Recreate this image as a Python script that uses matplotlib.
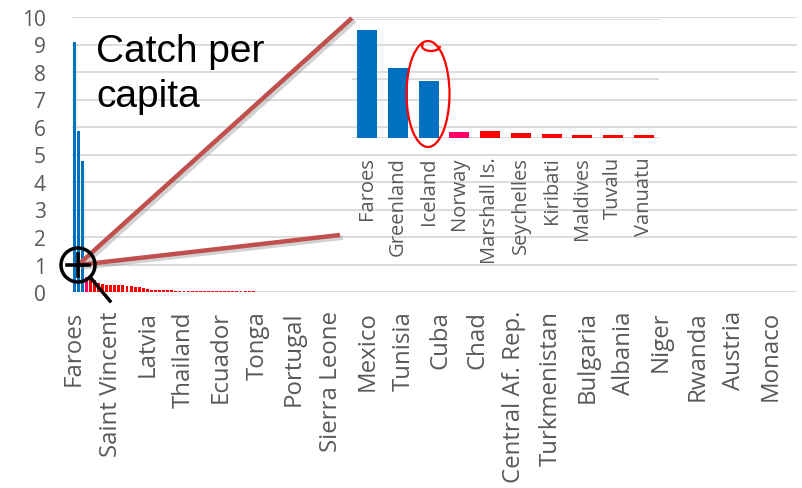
import matplotlib.pyplot as plt
import matplotlib.patheffects as pe
import matplotlib.transforms as mtransforms
from matplotlib.patches import Circle, Ellipse, Arc
from matplotlib.lines import Line2D

plt.rcParams.update({
    'font.family': ['Open Sans', 'DejaVu Sans'],
    'font.size': 12,
})

# countries labelled on the main axis (every 9th bar)
tick_labels = ["Faroes", "Saint Vincent", "Latvia", "Thailand", "Ecuador",
               "Tonga", "Portugal", "Sierra Leone", "Mexico", "Tunisia",
               "Cuba", "Chad", "Central Af. Rep.", "Turkmenistan", "Bulgaria",
               "Albania", "Niger", "Rwanda", "Austria", "Monaco"]
label_step = 9

# catch per capita, sorted descending (one value per country)
catch_per_capita = [
    9.10, 5.85, 4.75, 0.53, 0.55, 0.42, 0.33, 0.28, 0.27, 0.26,
    0.25, 0.25, 0.24, 0.23, 0.22, 0.20, 0.17, 0.14, 0.11, 0.09,
    0.08, 0.07, 0.065, 0.06, 0.055, 0.05, 0.05, 0.048, 0.046, 0.045,
    0.044, 0.042, 0.040, 0.035, 0.030, 0.028, 0.026, 0.025, 0.024, 0.023,
    0.022, 0.021, 0.020, 0.020, 0.019, 0.018, 0.018, 0.017, 0.016, 0.016,
    0.015, 0.015, 0.014, 0.014, 0.013, 0.013, 0.012, 0.012, 0.011, 0.011,
    0.010, 0.010, 0.009, 0.009, 0.009, 0.008, 0.008, 0.008, 0.007, 0.007,
    0.007, 0.007, 0.006, 0.006, 0.006, 0.006, 0.005, 0.005, 0.005, 0.005,
    0.005, 0.004, 0.004, 0.004, 0.004, 0.004, 0.004, 0.003, 0.003, 0.003,
    0.003, 0.003, 0.003, 0.003, 0.002, 0.002, 0.002, 0.002, 0.002, 0.002,
    0.002, 0.002, 0.002, 0.002, 0.002, 0.001, 0.001, 0.001, 0.001, 0.001,
    0.001, 0.001, 0.001, 0.001, 0.001, 0.001, 0.001, 0.001, 0.001, 0.001,
    0.001, 0.001, 0.001, 0.001, 0.001, 0.001, 0.001, 0.001, 0.001, 0.001,
    0.001, 0.001, 0.001, 0.001, 0.001, 0.0005, 0.0005, 0.0005, 0.0005, 0.0005,
    0.0005, 0.0005, 0.0005, 0.0005, 0.0005, 0.0005, 0.0005, 0.0005, 0.0005, 0.0005,
    0.0005, 0.0005, 0.0005, 0.0005, 0.0005, 0.0002, 0.0002, 0.0002, 0.0002, 0.0002,
    0.0002, 0.0002, 0.0002, 0.0002, 0.0002, 0.0002, 0.0002, 0.0002, 0.0002, 0.0002,
    0.0001, 0.0001, 0.0001, 0.0001, 0.0001, 0.0001, 0.0001, 0.0001,
]

# zoomed view: the top ten
inset_countries = ["Faroes", "Greenland", "Iceland", "Norway", "Marshall Is.",
                   "Seychelles", "Kiribati", "Maldives", "Tuvalu", "Vanuatu"]
inset_values = catch_per_capita[:len(inset_countries)]

BLUE = '#0070C0'
RED = '#FF0000'
PINK = '#FF0066'
GRID = '#D9D9D9'
TEXT = '#595959'
LINK = '#C0504D'


def bar_colors(n):
    colors = [RED] * n
    colors[:3] = [BLUE] * 3
    colors[3] = PINK
    return colors


W, H = 802, 489
fig = plt.figure(figsize=(W / 100, H / 100), dpi=100)

# ---- main chart
ax = fig.add_axes([72 / W, 1 - 293 / H, 725 / W, 275 / H])
n = len(catch_per_capita)
ax.bar(range(n), catch_per_capita, width=0.72, color=bar_colors(n), zorder=2)
ax.set_xlim(-0.5, n - 0.5)
ax.set_ylim(0, 10)
ax.set_yticks(range(0, 11))
ax.set_xticks(range(0, n, label_step)[:len(tick_labels)])
ax.set_xticklabels(tick_labels, rotation=90, fontsize=17.3, color=TEXT)
ax.tick_params(axis='x', length=0, pad=13)
ax.tick_params(axis='y', length=0, pad=19, labelsize=15, labelcolor=TEXT)
ax.grid(axis='y', color=GRID, lw=1.3, zorder=0)
ax.set_axisbelow(True)
for s in ax.spines.values():
    s.set_visible(False)
ax.set_facecolor('none')

ax.text(96 / W, 1 - 34 / H, "Catch per\ncapita", transform=fig.transFigure,
        family=['Liberation Sans', 'DejaVu Sans'], fontsize=28,
        color='black', va='top', ha='left', linespacing=1.32)

# ---- inset
axin = fig.add_axes([352 / W, 1 - 139 / H, 307 / W, 119 / H])
m = len(inset_values)
axin.bar(range(m), inset_values, width=0.65, color=bar_colors(m), zorder=2)
axin.set_xlim(-0.5, m - 0.5)
axin.set_ylim(0, 10)
axin.set_yticks([0, 5, 10])
axin.set_yticklabels([])
axin.set_xticks(range(m))
axin.set_xticklabels(inset_countries, rotation=90, fontsize=14.5, color=TEXT)
axin.tick_params(axis='x', length=0, pad=13)
axin.tick_params(axis='y', length=0)
axin.grid(axis='y', color=GRID, lw=1.3, zorder=0)
for s in axin.spines.values():
    s.set_visible(False)
axin.patch.set_visible(False)

# ---- zoom decorations, in image pixels (y down)
px = mtransforms.Affine2D().scale(1 / 100, -1 / 100).translate(0, H / 100) + fig.dpi_scale_trans
shadow = [pe.SimpleLineShadow(offset=(2, -2), shadow_color='gray', alpha=0.35), pe.Normal()]
cx, cy = 78, 266
for ex, ey in [(352, 19), (340, 236)]:
    fig.add_artist(Line2D([cx, ex], [cy, ey], transform=px, color=LINK, lw=3.2,
                          solid_capstyle='butt', path_effects=shadow, zorder=5))

fig.add_artist(Circle((cx, cy), 17, transform=px, fill=False, ec='black', lw=2.5, zorder=6))
fig.add_artist(Line2D([cx - 11, cx + 11], [cy, cy], transform=px, color='black', lw=2.6, zorder=6))
fig.add_artist(Line2D([cx, cx], [cy - 11, cy + 11], transform=px, color='black', lw=2.6, zorder=6))
fig.add_artist(Line2D([cx + 12, cx + 32], [cy + 12, cy + 36], transform=px, color='black', lw=2.5, zorder=6))

# hand-drawn circle round Iceland
fig.add_artist(Ellipse((428, 95), 43, 106, transform=px, fill=False, ec=RED, lw=1.6, zorder=6))
fig.add_artist(Arc((431, 47), 18, 10, theta1=0, theta2=200, transform=px, ec=RED, lw=1.6, zorder=6))

fig.savefig('out.png', dpi=100, facecolor='white')
